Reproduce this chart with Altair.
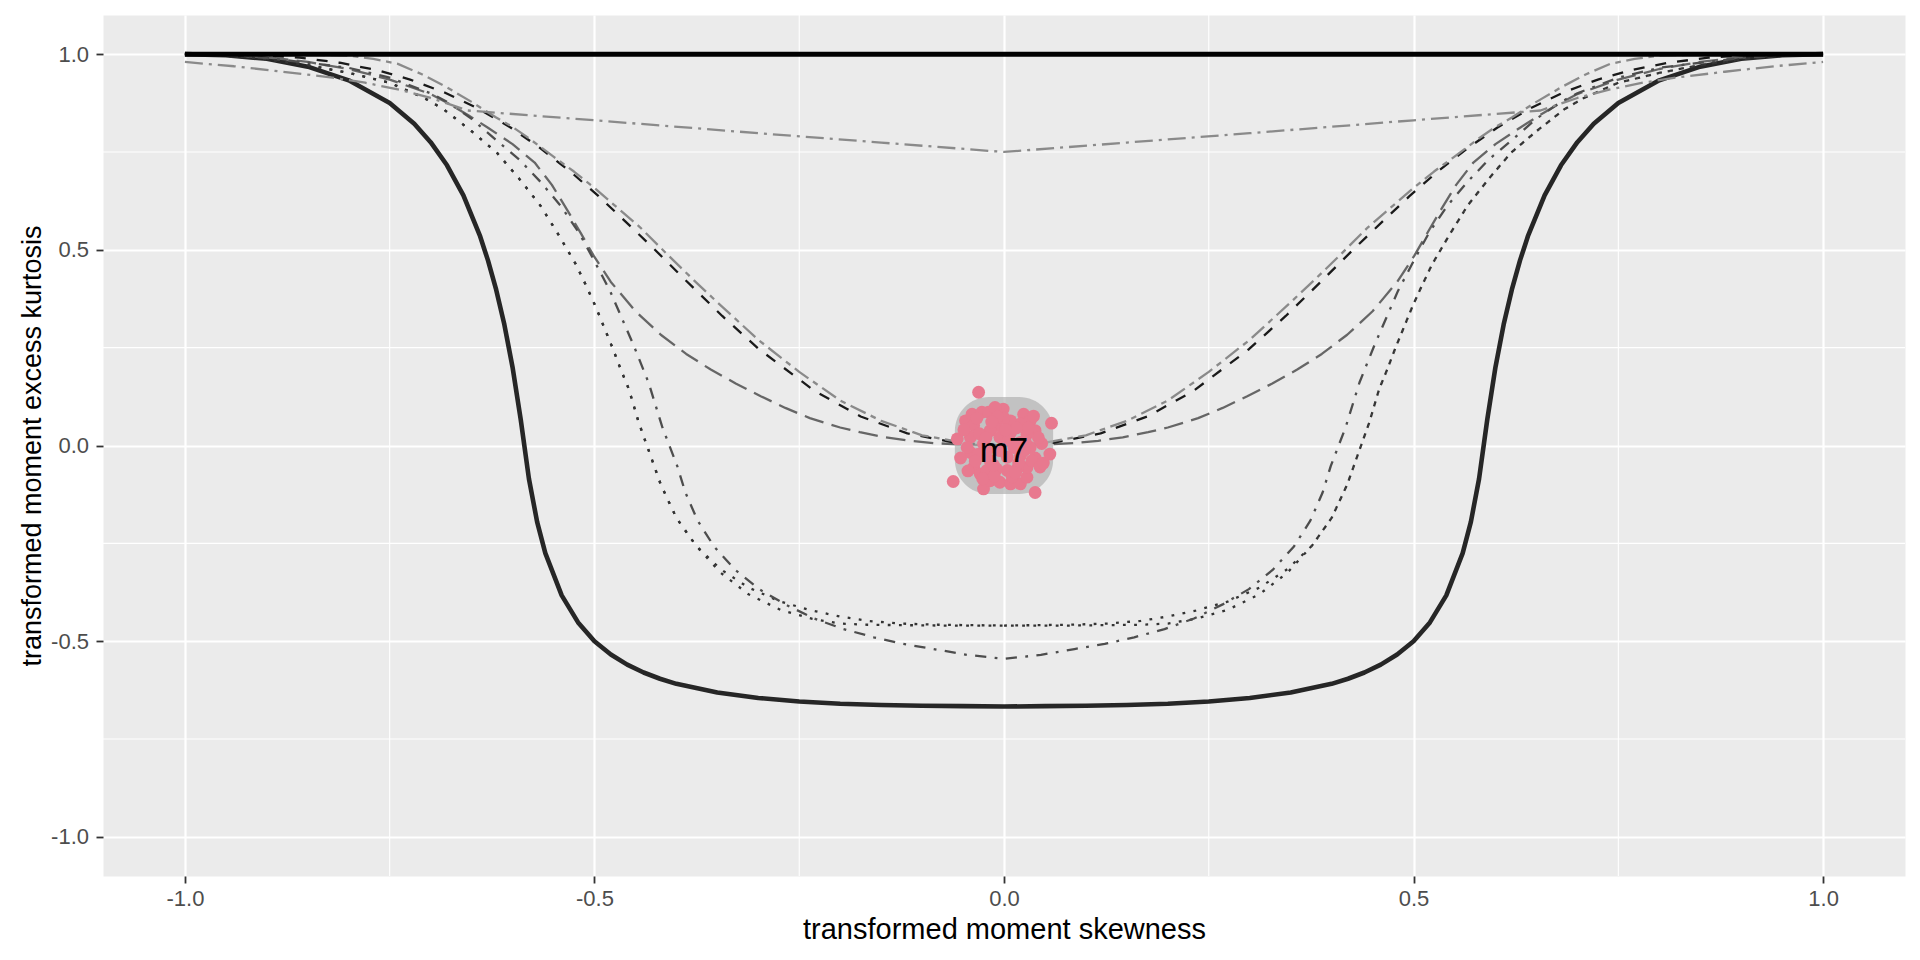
import altair as alt
import pandas as pd

FONT = "Liberation Sans"

# ---------------- data ----------------
grid_major = [-1.0, -0.5, 0.0, 0.5, 1.0]
grid_minor = [-0.75, -0.25, 0.25, 0.75]

# upper bound (solid black)
ub_x = [-1.0, 1.0]
ub_y = [1.0, 1.0]

# lower bound (solid dark)
lb_x = [-1.0, -0.95, -0.9, -0.85, -0.8, -0.75, -0.72, -0.7, -0.68, -0.66, -0.64, -0.63, -0.62, -0.61, -0.6,
        -0.59, -0.58, -0.57, -0.56, -0.54, -0.52, -0.5, -0.48, -0.46, -0.44, -0.42, -0.4, -0.35, -0.3, -0.25,
        -0.2, -0.15, -0.1, -0.05, 0.0,
        0.05, 0.1, 0.15, 0.2, 0.25, 0.3, 0.35, 0.4, 0.42, 0.44, 0.46, 0.48, 0.5, 0.52, 0.54, 0.56, 0.57, 0.58,
        0.59, 0.6, 0.61, 0.62, 0.63, 0.64, 0.66, 0.68, 0.7, 0.72, 0.75, 0.8, 0.85, 0.9, 0.95, 1.0]
lb_y = [1.0, 0.997, 0.988, 0.968, 0.933, 0.875, 0.822, 0.775, 0.716, 0.639, 0.537, 0.473, 0.398, 0.309, 0.2,
        0.066, -0.085, -0.195, -0.275, -0.383, -0.452, -0.5, -0.534, -0.56, -0.58, -0.596, -0.609, -0.631, -0.645, -0.654,
        -0.66, -0.663, -0.665, -0.666, -0.667,
        -0.666, -0.665, -0.663, -0.66, -0.654, -0.645, -0.631, -0.609, -0.596, -0.58, -0.56, -0.534, -0.5, -0.452, -0.383,
        -0.275, -0.195, -0.085, 0.066, 0.2, 0.309, 0.398, 0.473, 0.537, 0.639, 0.716, 0.775, 0.822, 0.875, 0.933,
        0.968, 0.988, 0.997, 1.0]

# black dashed curve
ln_x = [-1.0, -0.964, -0.912, -0.86, -0.811, -0.765, -0.725, -0.683, -0.644, -0.602, -0.567, -0.53, -0.495,
        -0.466, -0.428, -0.392, -0.344, -0.299, -0.231, -0.175, -0.118, -0.06, 0.0,
        0.06, 0.118, 0.175, 0.231, 0.299, 0.344, 0.392, 0.428, 0.466, 0.495, 0.53, 0.567, 0.602, 0.644, 0.683,
        0.725, 0.765, 0.811, 0.86, 0.912, 0.964, 1.0]
ln_y = [1.0, 1.0, 0.998, 0.991, 0.978, 0.959, 0.935, 0.902, 0.863, 0.812, 0.761, 0.701, 0.637,
        0.58, 0.504, 0.429, 0.331, 0.246, 0.139, 0.074, 0.031, 0.007, 0.0,
        0.007, 0.031, 0.074, 0.139, 0.246, 0.331, 0.429, 0.504, 0.58, 0.637, 0.701, 0.761, 0.812, 0.863, 0.902,
        0.935, 0.959, 0.978, 0.991, 0.998, 1.0, 1.0]

# light grey two-dash curve
td_x = [-1.0, -0.9, -0.85, -0.8, -0.77, -0.74, -0.71, -0.68, -0.65, -0.62, -0.6, -0.58, -0.55, -0.525, -0.5,
        -0.475, -0.444, -0.41, -0.38, -0.35, -0.3, -0.25, -0.2, -0.15, -0.1, -0.05, 0.0,
        0.05, 0.1, 0.15, 0.2, 0.25, 0.3, 0.35, 0.38, 0.41, 0.444, 0.475, 0.5, 0.525, 0.55, 0.58, 0.6, 0.62,
        0.65, 0.68, 0.71, 0.74, 0.77, 0.8, 0.85, 0.9, 1.0]
td_y = [1.0, 1.0, 0.999, 0.996, 0.988, 0.975, 0.948, 0.915, 0.878, 0.838, 0.814, 0.785, 0.738, 0.7, 0.658,
        0.613, 0.557, 0.486, 0.425, 0.366, 0.27, 0.188, 0.115, 0.063, 0.026, 0.007, 0.0,
        0.007, 0.026, 0.063, 0.115, 0.188, 0.27, 0.366, 0.425, 0.486, 0.557, 0.613, 0.658, 0.7, 0.738, 0.785,
        0.814, 0.838, 0.878, 0.915, 0.948, 0.975, 0.988, 0.996, 0.999, 1.0, 1.0]

# medium grey long-dash curve
ld_x = [-1.0, -0.95, -0.9, -0.85, -0.8, -0.75, -0.7, -0.68, -0.654, -0.63, -0.6, -0.573, -0.552, -0.533,
        -0.516, -0.501, -0.48, -0.45, -0.419, -0.388, -0.358, -0.327, -0.297, -0.267, -0.237, -0.2, -0.176,
        -0.145, -0.115, -0.085, -0.055, -0.025, 0.0,
        0.025, 0.055, 0.085, 0.115, 0.145, 0.176, 0.2, 0.237, 0.267, 0.297, 0.327, 0.358, 0.388, 0.419, 0.45,
        0.48, 0.501, 0.516, 0.533, 0.552, 0.573, 0.6, 0.63, 0.654, 0.68, 0.7, 0.75, 0.8, 0.85, 0.9, 0.95, 1.0]
ld_y = [1.0, 0.998, 0.992, 0.98, 0.962, 0.935, 0.898, 0.876, 0.844, 0.812, 0.77, 0.723, 0.666, 0.601,
        0.54, 0.485, 0.418, 0.343, 0.283, 0.234, 0.194, 0.158, 0.126, 0.096, 0.07, 0.046, 0.034,
        0.021, 0.012, 0.006, 0.003, 0.001, 0.0,
        0.001, 0.003, 0.006, 0.012, 0.021, 0.034, 0.046, 0.07, 0.096, 0.126, 0.158, 0.194, 0.234, 0.283, 0.343,
        0.418, 0.485, 0.54, 0.601, 0.666, 0.723, 0.77, 0.812, 0.844, 0.876, 0.898, 0.935, 0.962, 0.98, 0.992,
        0.998, 1.0]

# light grey dash-dot line through (0, 0.75)
al_x = [-1.0, -0.94, -0.88, -0.82, -0.78, -0.74, -0.7, -0.68, -0.655, -0.5, -0.3, -0.15, 0.0,
        0.15, 0.3, 0.5, 0.655, 0.68, 0.7, 0.74, 0.78, 0.82, 0.88, 0.94, 1.0]
al_y = [0.98, 0.969, 0.955, 0.94, 0.927, 0.91, 0.888, 0.874, 0.856, 0.831, 0.798, 0.774, 0.75,
        0.774, 0.798, 0.831, 0.856, 0.874, 0.888, 0.91, 0.927, 0.94, 0.955, 0.969, 0.98]

# dotted curves (flat bottom near -0.46)
dt_x = [-1.0, -0.95, -0.9, -0.85, -0.8, -0.75, -0.708, -0.684, -0.65, -0.619, -0.592, -0.566, -0.544, -0.523,
        -0.511, -0.499, -0.489, -0.478, -0.468, -0.458, -0.446, -0.438, -0.43, -0.419, -0.4, -0.376, -0.346,
        -0.312, -0.273, -0.234, -0.2, -0.167, -0.127, -0.08, 0.0,
        0.08, 0.127, 0.167, 0.2, 0.234, 0.273, 0.312, 0.346, 0.376, 0.4, 0.419, 0.43, 0.438, 0.446, 0.458,
        0.468, 0.478, 0.489, 0.499, 0.511, 0.523, 0.544, 0.566, 0.592, 0.619, 0.65, 0.684, 0.708, 0.75, 0.8,
        0.85, 0.9, 0.95, 1.0]
dt1_y = [1.0, 0.996, 0.987, 0.972, 0.952, 0.927, 0.888, 0.859, 0.803, 0.748, 0.682, 0.613, 0.539, 0.464,
         0.412, 0.357, 0.306, 0.25, 0.195, 0.144, 0.059, 0.012, -0.035, -0.1, -0.185, -0.256, -0.316,
         -0.363, -0.399, -0.422, -0.437, -0.448, -0.455, -0.458, -0.46,
         -0.458, -0.455, -0.448, -0.437, -0.422, -0.399, -0.363, -0.316, -0.256, -0.185, -0.1, -0.035, 0.012,
         0.059, 0.144, 0.195, 0.25, 0.306, 0.357, 0.412, 0.464, 0.539, 0.613, 0.682, 0.748, 0.803, 0.859,
         0.888, 0.927, 0.952, 0.972, 0.987, 0.996, 1.0]
dt2_y = [1.0, 0.996, 0.987, 0.972, 0.952, 0.927, 0.888, 0.859, 0.803, 0.748, 0.682, 0.613, 0.539, 0.464,
         0.412, 0.357, 0.306, 0.25, 0.195, 0.144, 0.059, 0.012, -0.035, -0.1, -0.185, -0.256, -0.325,
         -0.38, -0.42, -0.443, -0.455, -0.458, -0.459, -0.46, -0.46,
         -0.46, -0.459, -0.458, -0.455, -0.443, -0.42, -0.38, -0.325, -0.256, -0.185, -0.1, -0.035, 0.012,
         0.059, 0.144, 0.195, 0.25, 0.306, 0.357, 0.412, 0.464, 0.539, 0.613, 0.682, 0.748, 0.803, 0.859,
         0.888, 0.927, 0.952, 0.972, 0.987, 0.996, 1.0]

# dark dot-dash curve (bottom near -0.545)
dd_x = [-1.0, -0.95, -0.9, -0.85, -0.8, -0.75, -0.7, -0.68, -0.65, -0.621, -0.592, -0.566, -0.541, -0.519,
        -0.502, -0.481, -0.452, -0.434, -0.417, -0.399, -0.389, -0.374, -0.354, -0.328, -0.299, -0.267,
        -0.232, -0.196, -0.159, -0.123, -0.086, -0.045, 0.0,
        0.045, 0.086, 0.123, 0.159, 0.196, 0.232, 0.267, 0.299, 0.328, 0.354, 0.374, 0.389, 0.399, 0.417,
        0.434, 0.452, 0.481, 0.502, 0.519, 0.541, 0.566, 0.592, 0.621, 0.65, 0.68, 0.7, 0.75, 0.8, 0.85, 0.9,
        0.95, 1.0]
dd_y = [1.0, 0.997, 0.99, 0.978, 0.965, 0.94, 0.9, 0.878, 0.835, 0.782, 0.731, 0.674, 0.612, 0.544,
        0.479, 0.395, 0.255, 0.161, 0.046, -0.052, -0.12, -0.192, -0.258, -0.318, -0.367, -0.406,
        -0.442, -0.469, -0.49, -0.507, -0.52, -0.535, -0.545,
        -0.535, -0.52, -0.507, -0.49, -0.469, -0.442, -0.406, -0.367, -0.318, -0.258, -0.192, -0.12, -0.052,
        0.046, 0.161, 0.255, 0.395, 0.479, 0.544, 0.612, 0.674, 0.731, 0.782, 0.835, 0.878, 0.9, 0.94, 0.965,
        0.978, 0.99, 0.997, 1.0]

# sample points (pink)
pts_x = [-0.031, 0.058, -0.057, -0.053, -0.062, 0.038, -0.025, 0.056, 0.038, 0.046, -0.047, -0.039, -0.027,
         -0.019, -0.001, 0.024, 0.032, 0.038, 0.020, 0.008, -0.009, -0.017, -0.037, 0.008, 0.028, 0.020,
         -0.005, -0.041, -0.031, -0.037, -0.029, -0.017, -0.005, 0.008, 0.020, 0.028, 0.028, 0.016, 0.004,
         -0.009, -0.021, -0.017, 0.004, 0.020, 0.032, -0.025, -0.041, 0.012, -0.005, -0.021, -0.011, 0.034,
         0.015, -0.030, 0.010, -0.012, 0.042, -0.045, 0.000, 0.025,
         -0.033, -0.022, -0.008, 0.006, 0.018, 0.030, 0.044, -0.049, -0.035, -0.013, 0.002, 0.014, 0.026,
         -0.026, 0.036, -0.044, 0.048, -0.015]
pts_y = [0.136, 0.057, 0.017, -0.032, -0.092, -0.120, -0.111, -0.022, -0.032, 0.005, 0.063, 0.080, 0.085,
         0.085, 0.093, 0.080, 0.063, 0.038, 0.055, 0.063, 0.051, 0.038, 0.051, 0.033, 0.029, 0.008,
         0.021, -0.018, -0.022, -0.056, -0.073, -0.090, -0.094, -0.098, -0.098, -0.081, -0.056, -0.060, -0.064,
         -0.060, -0.064, -0.039, -0.030, -0.026, -0.005, 0.004, 0.021, -0.005, -0.013, -0.013, 0.097, -0.039,
         0.045, 0.030, -0.080, -0.078, 0.020, -0.005, 0.070, -0.012,
         0.070, 0.020, 0.073, 0.015, -0.045, 0.045, -0.055, 0.040, -0.040, -0.050, 0.040, -0.070, 0.010,
         -0.085, 0.075, -0.065, -0.045, 0.060]

# region around the sample and its label
region_x = [-0.06]
region_x2 = [0.06]
region_y = [-0.124]
region_y2 = [0.124]
label_x = [0.0]
label_y = [-0.015]
label_text = ["m7"]

# ---------------- chart ----------------
scale = alt.Scale(domain=[-1.1, 1.1], nice=False, zero=False)
label_expr = "(datum.value < 0 ? '-' : '') + format(abs(datum.value), '.1f')"

common_axis = dict(
    values=grid_major, labelExpr=label_expr, domain=False, grid=True, gridColor="#FFFFFF",
    gridWidth=2.2, ticks=True, tickSize=7, tickWidth=1.8, tickColor="#333333",
    labelFont=FONT, labelFontSize=22, labelColor="#4D4D4D", labelFlush=False, labelOverlap=False,
    titleFont=FONT, titleFontWeight="normal", titleColor="#000000",
)
x_axis = alt.Axis(title="transformed moment skewness", labelPadding=5, titleY=62, titleFontSize=29,
                  titleBaseline="alphabetic", **common_axis)
y_axis = alt.Axis(title="transformed moment excess kurtosis", labelPadding=7.5, titleX=-63, titleFontSize=27,
                  titleAngle=270, titleBaseline="alphabetic", **common_axis)

X = alt.X("x:Q", scale=scale, axis=x_axis)
Y = alt.Y("y:Q", scale=scale, axis=y_axis)


def curve(xs, ys, color, width, dash=None):
    df = pd.DataFrame({"x": xs, "y": ys})
    df["i"] = range(len(df))
    kw = dict(color=color, strokeWidth=width, strokeCap="butt", strokeJoin="round")
    if dash is not None:
        kw["strokeDash"] = dash
    return alt.Chart(df).mark_line(**kw).encode(x=X, y=Y, order="i:Q")


minor_v = alt.Chart(pd.DataFrame({"x": grid_minor})).mark_rule(color="#FFFFFF", strokeWidth=1.1).encode(x=X)
minor_h = alt.Chart(pd.DataFrame({"y": grid_minor})).mark_rule(color="#FFFFFF", strokeWidth=1.1).encode(y=Y)

lower = curve(lb_x, lb_y, "#262626", 4.6)
longdash = curve(ld_x, ld_y, "#666666", 2.3, [19.6, 8.4])
lognorm = curve(ln_x, ln_y, "#1A1A1A", 2.3, [11, 11])
twodash = curve(td_x, td_y, "#8A8A8A", 2.3, [5.6, 5.6, 16.8, 5.6])
dotted1 = curve(dt_x, dt1_y, "#333333", 2.3, [2.8, 8.4])
dotted2 = curve(dt_x, dt2_y, "#333333", 2.3, [2.8, 8.4])
dotdash = curve(dd_x, dd_y, "#4D4D4D", 2.3, [2.8, 8.4, 11.2, 8.4])
alline = curve(al_x, al_y, "#8A8A8A", 2.3, [18, 6, 3, 6])
upper = curve(ub_x, ub_y, "#000000", 5)

region = alt.Chart(pd.DataFrame({"x": region_x, "x2": region_x2, "y": region_y, "y2": region_y2})).mark_rect(
    cornerRadius=34, color="#B0B0B0", opacity=0.7
).encode(x=X, x2="x2:Q", y=Y, y2="y2:Q")

points = alt.Chart(pd.DataFrame({"x": pts_x, "y": pts_y})).mark_circle(
    size=165, color="#E8798F", opacity=1
).encode(x=X, y=Y)

label = alt.Chart(pd.DataFrame({"x": label_x, "y": label_y, "label": label_text})).mark_text(
    font=FONT, fontSize=35, color="#000000", align="center", baseline="middle"
).encode(x=X, y=Y, text="label:N")

chart = alt.layer(
    minor_v, minor_h, lower, longdash, lognorm, twodash, dotted1, dotted2, dotdash, alline, upper,
    region, points, label
).properties(
    width=1802, height=861,
    padding={"left": 95, "top": 7, "right": 5, "bottom": 72},
    autosize=alt.AutoSizeParams(type="none"),
    background="#FFFFFF",
).configure_view(fill="#EBEBEB", stroke="transparent")

chart.save("out.html", embed_options={"renderer": "svg", "actions": False})
